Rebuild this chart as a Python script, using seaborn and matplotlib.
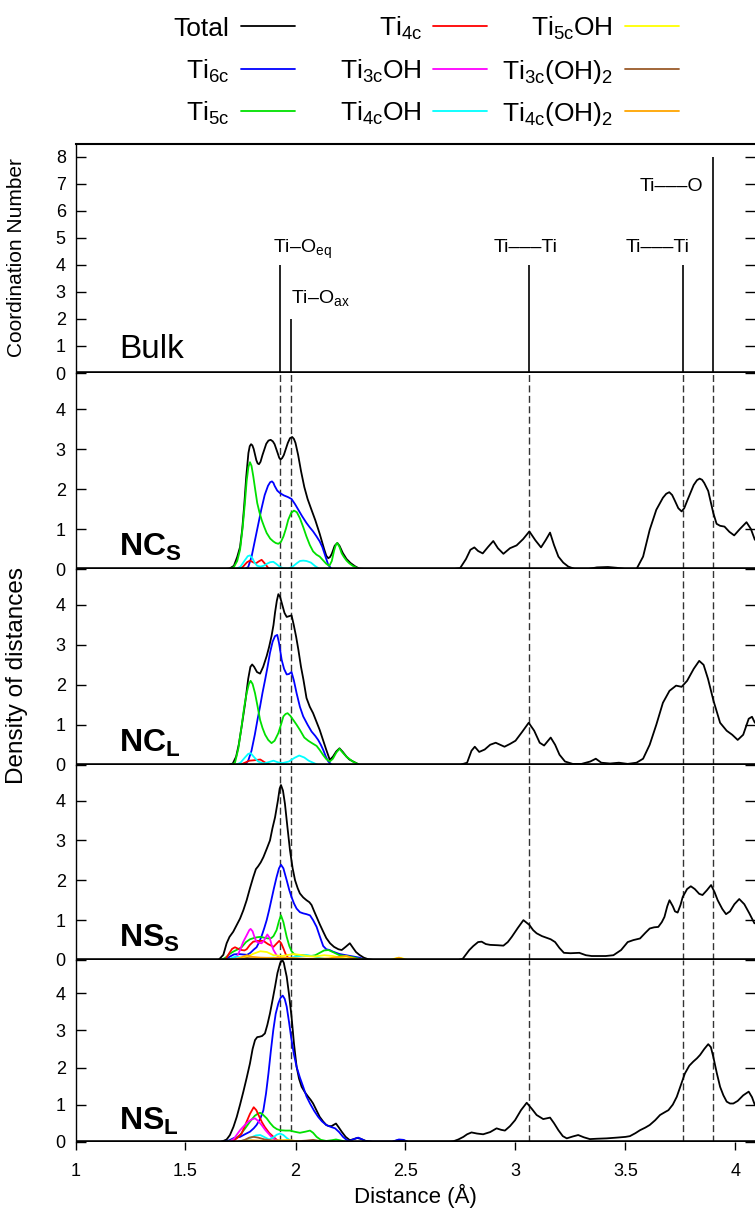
import numpy as np
import pandas as pd
import matplotlib
matplotlib.use("Agg")
import matplotlib.pyplot as plt
from matplotlib.lines import Line2D
import seaborn as sns

# ---------------------------------------------------------------- data
SERIES = ["Total", "Ti6c", "Ti5c", "Ti4c", "Ti3cOH", "Ti4cOH",
          "Ti5cOH", "Ti3c(OH)2", "Ti4c(OH)2"]
SERIES_LABELS = ["Total", r"Ti$_\mathrm{6c}$", r"Ti$_\mathrm{5c}$", r"Ti$_\mathrm{4c}$",
                 r"Ti$_\mathrm{3c}$OH", r"Ti$_\mathrm{4c}$OH", r"Ti$_\mathrm{5c}$OH",
                 r"Ti$_\mathrm{3c}$(OH)$_2$", r"Ti$_\mathrm{4c}$(OH)$_2$"]
SERIES_COLORS = ["#000000", "#0000ff", "#00e000", "#ff0000", "#ff00ff",
                 "#00ffff", "#ffff00", "#9a5a2a", "#ffa500"]

# Bulk anatase reference shells: distance (Å) and coordination number
REF_DIST = [1.93, 1.98, 3.06, 3.76, 3.90]
REF_CN = [4, 2, 4, 4, 8]
REF_LABELS = ["Ti–O$_\\mathrm{eq}$", "Ti–O$_\\mathrm{ax}$", "Ti–––Ti", "Ti–––Ti", "Ti–––O"]

PANEL_NAMES = ["Bulk", "NC_S", "NC_L", "NS_S", "NS_L"]
X_TICKS = [1, 1.5, 2, 2.5, 3, 3.5, 4]
X_TICK_LABELS = ["1", "1.5", "2", "2.5", "3", "3.5", "4"]
BULK_Y_TICKS = [0, 1, 2, 3, 4, 5, 6, 7, 8]
DENSITY_Y_TICKS = [0, 1, 2, 3, 4]

# ---- NC_S
NCS_TOTAL = [(1.68, 0), (1.70, 0.01), (1.72, 0.08), (1.735, 0.3), (1.748, 0.55), (1.758, 1.0),
             (1.767, 1.6), (1.776, 2.3), (1.786, 2.9), (1.792, 3.07), (1.798, 3.12), (1.804, 3.09),
             (1.81, 3.0), (1.822, 2.72), (1.828, 2.64), (1.834, 2.62), (1.841, 2.68), (1.85, 2.85),
             (1.867, 3.13), (1.877, 3.21), (1.887, 3.23), (1.897, 3.19), (1.905, 3.12), (1.92, 2.88),
             (1.926, 2.78), (1.932, 2.74), (1.939, 2.77), (1.947, 2.85), (1.965, 3.15), (1.975, 3.27),
             (1.985, 3.30), (1.993, 3.25), (2.0, 3.15), (2.012, 2.85), (2.025, 2.45), (2.04, 2.05),
             (2.055, 1.75), (2.07, 1.52), (2.09, 1.22), (2.11, 0.88), (2.13, 0.5), (2.14, 0.33),
             (2.149, 0.27), (2.157, 0.3), (2.165, 0.38), (2.178, 0.58), (2.19, 0.65), (2.2, 0.58),
             (2.215, 0.4), (2.232, 0.25), (2.25, 0.15), (2.27, 0.07), (2.29, 0.01), (2.32, 0),
             (2.72, 0), (2.748, 0.02), (2.775, 0.25), (2.795, 0.48), (2.813, 0.54), (2.83, 0.45),
             (2.851, 0.39), (2.875, 0.55), (2.899, 0.70), (2.92, 0.52), (2.945, 0.38), (2.96, 0.45),
             (2.975, 0.52), (3.005, 0.59), (3.035, 0.75), (3.063, 0.94), (3.09, 0.72), (3.116, 0.54),
             (3.137, 0.72), (3.157, 0.91), (3.175, 0.6), (3.195, 0.31), (3.217, 0.16), (3.24, 0.06),
             (3.27, 0.0), (3.33, 0.0), (3.37, 0.04), (3.42, 0.05), (3.46, 0.03), (3.50, 0.0),
             (3.55, 0.0), (3.58, 0.31), (3.61, 0.98), (3.64, 1.48), (3.67, 1.78), (3.685, 1.88),
             (3.699, 1.92), (3.712, 1.85), (3.725, 1.7), (3.74, 1.52), (3.755, 1.44), (3.767, 1.52),
             (3.78, 1.7), (3.81, 2.1), (3.825, 2.22), (3.837, 2.26), (3.848, 2.23), (3.858, 2.15),
             (3.876, 1.95), (3.899, 1.40), (3.914, 1.13), (3.93, 1.08), (3.95, 1.06), (3.972, 0.93),
             (3.994, 0.84), (4.02, 1.0), (4.05, 1.17), (4.07, 1.0), (4.088, 0.73)]
NCS_TI6C = [(1.77, 0), (1.785, 0.05), (1.80, 0.3), (1.815, 0.7), (1.83, 1.1), (1.845, 1.5),
            (1.86, 1.85), (1.875, 2.08), (1.885, 2.17), (1.893, 2.19), (1.9, 2.15), (1.905, 2.08),
            (1.917, 1.96), (1.929, 1.90), (1.947, 1.84), (1.965, 1.8), (1.982, 1.75), (1.998, 1.62),
            (2.013, 1.48), (2.03, 1.32), (2.05, 1.15), (2.065, 1.04), (2.08, 0.94), (2.095, 0.82),
            (2.11, 0.69), (2.122, 0.55), (2.134, 0.35), (2.149, 0.1), (2.164, 0)]
NCS_TI5C = [(1.70, 0), (1.72, 0.05), (1.735, 0.2), (1.748, 0.48), (1.76, 1.05), (1.77, 1.65),
            (1.778, 2.2), (1.786, 2.55), (1.793, 2.67), (1.80, 2.58), (1.808, 2.32), (1.817, 1.98),
            (1.826, 1.65), (1.836, 1.42), (1.846, 1.23), (1.858, 1.05), (1.869, 0.90), (1.885, 0.76),
            (1.899, 0.69), (1.91, 0.65), (1.922, 0.63), (1.934, 0.68), (1.945, 0.81), (1.956, 1.0),
            (1.967, 1.23), (1.98, 1.4), (1.993, 1.46), (2.006, 1.42), (2.02, 1.27), (2.035, 1.05),
            (2.05, 0.81), (2.065, 0.6), (2.08, 0.44), (2.095, 0.36), (2.11, 0.31), (2.125, 0.22),
            (2.14, 0.13), (2.154, 0.08), (2.165, 0.2), (2.175, 0.45), (2.183, 0.6), (2.19, 0.65),
            (2.2, 0.55), (2.21, 0.39), (2.22, 0.3), (2.232, 0.21), (2.245, 0.14), (2.26, 0.08),
            (2.29, 0)]
NCS_TI4C = [(1.74, 0), (1.76, 0.05), (1.78, 0.17), (1.793, 0.21), (1.807, 0.17), (1.82, 0.14),
            (1.833, 0.19), (1.846, 0.23), (1.86, 0.14), (1.877, 0.02), (1.89, 0)]
NCS_TI4COH = [(1.73, 0), (1.75, 0.06), (1.77, 0.22), (1.783, 0.32), (1.793, 0.34), (1.805, 0.26),
              (1.815, 0.15), (1.826, 0.08), (1.84, 0.06), (1.855, 0.08), (1.87, 0.13), (1.885, 0.17),
              (1.899, 0.18), (1.912, 0.13), (1.93, 0.05), (1.945, 0.02), (1.965, 0.01), (1.985, 0.05),
              (2.005, 0.14), (2.02, 0.2), (2.035, 0.21), (2.05, 0.2), (2.07, 0.16), (2.09, 0.07),
              (2.11, 0)]

# ---- NC_L
NCL_TOTAL = [(1.70, 0), (1.715, 0.03), (1.73, 0.2), (1.742, 0.5), (1.755, 0.95), (1.77, 1.5),
             (1.785, 2.15), (1.795, 2.45), (1.803, 2.51), (1.812, 2.45), (1.825, 2.32), (1.839, 2.28),
             (1.853, 2.45), (1.869, 2.72), (1.88, 2.95), (1.891, 3.22), (1.9, 3.5), (1.907, 3.81),
             (1.915, 4.1), (1.922, 4.27), (1.93, 4.2), (1.94, 4.0), (1.95, 3.8), (1.96, 3.70),
             (1.972, 3.72), (1.982, 3.74), (1.992, 3.5), (2.003, 3.2), (2.013, 2.88), (2.025, 2.45),
             (2.036, 2.13), (2.05, 1.67), (2.065, 1.45), (2.08, 1.29), (2.095, 1.08), (2.11, 0.87),
             (2.125, 0.62), (2.14, 0.37), (2.156, 0.12), (2.17, 0.2), (2.185, 0.33), (2.2, 0.41),
             (2.215, 0.32), (2.232, 0.2), (2.245, 0.13), (2.262, 0.08), (2.29, 0),
             (2.75, 0), (2.78, 0.05), (2.80, 0.35), (2.815, 0.45), (2.835, 0.32), (2.86, 0.38),
             (2.885, 0.5), (2.91, 0.55), (2.93, 0.5), (2.95, 0.45), (2.975, 0.52), (3.0, 0.6),
             (3.03, 0.82), (3.06, 1.05), (3.085, 0.85), (3.11, 0.55), (3.13, 0.48), (3.16, 0.68),
             (3.18, 0.5), (3.2, 0.25), (3.225, 0.08), (3.26, 0.02), (3.3, 0.02), (3.34, 0.08),
             (3.365, 0.15), (3.39, 0.05), (3.43, 0.03), (3.47, 0.05), (3.51, 0.02), (3.55, 0.05),
             (3.58, 0.15), (3.61, 0.5), (3.64, 1.0), (3.67, 1.55), (3.7, 1.85), (3.73, 1.98),
             (3.755, 1.95), (3.78, 2.1), (3.81, 2.4), (3.835, 2.6), (3.855, 2.5), (3.875, 2.15),
             (3.9, 1.6), (3.93, 1.05), (3.96, 0.85), (3.985, 0.75), (4.01, 0.62), (4.035, 0.75),
             (4.06, 1.15), (4.075, 1.2), (4.088, 1.05)]
NCL_TI6C = [(1.77, 0), (1.785, 0.1), (1.8, 0.35), (1.815, 0.75), (1.828, 1.15), (1.839, 1.46),
            (1.85, 1.8), (1.862, 2.13), (1.873, 2.45), (1.884, 2.80), (1.896, 3.08), (1.907, 3.22),
            (1.917, 3.25), (1.925, 3.05), (1.937, 2.63), (1.948, 2.4), (1.96, 2.26), (1.97, 2.27),
            (1.982, 2.32), (1.993, 2.1), (2.005, 1.79), (2.02, 1.45), (2.035, 1.21), (2.055, 1.0),
            (2.073, 0.83), (2.09, 0.72), (2.103, 0.62), (2.115, 0.5), (2.126, 0.37), (2.138, 0.2),
            (2.149, 0.08), (2.164, 0)]
NCL_TI5C = [(1.71, 0), (1.725, 0.05), (1.74, 0.4), (1.755, 0.96), (1.767, 1.45), (1.778, 1.79),
            (1.788, 2.02), (1.796, 2.10), (1.805, 2.02), (1.816, 1.79), (1.828, 1.45), (1.839, 1.12),
            (1.85, 0.92), (1.862, 0.75), (1.876, 0.62), (1.891, 0.54), (1.905, 0.6), (1.922, 0.79),
            (1.935, 1.02), (1.945, 1.21), (1.955, 1.27), (1.964, 1.29), (1.977, 1.22), (1.99, 1.12),
            (2.005, 1.0), (2.02, 0.87), (2.04, 0.68), (2.058, 0.60), (2.075, 0.54), (2.096, 0.47),
            (2.11, 0.37), (2.126, 0.24), (2.14, 0.14), (2.156, 0.08), (2.17, 0.15), (2.185, 0.3),
            (2.2, 0.40), (2.215, 0.3), (2.232, 0.2), (2.26, 0.08), (2.29, 0)]
NCL_TI4C = [(1.75, 0), (1.77, 0.05), (1.79, 0.1), (1.81, 0.11), (1.825, 0.12), (1.84, 0.13),
            (1.86, 0.06), (1.884, 0)]
NCL_TI4COH = [(1.73, 0), (1.75, 0.05), (1.77, 0.18), (1.785, 0.27), (1.796, 0.29), (1.81, 0.2),
              (1.83, 0.08), (1.854, 0.03), (1.875, 0.06), (1.9, 0.1), (1.92, 0.06), (1.94, 0.04),
              (1.97, 0.08), (1.995, 0.17), (2.017, 0.23), (2.04, 0.18), (2.06, 0.1), (2.08, 0.05),
              (2.1, 0)]

# ---- NS_S
NSS_TOTAL = [(1.65, 0), (1.672, 0.13), (1.687, 0.42), (1.70, 0.58), (1.717, 0.71), (1.733, 0.88),
             (1.748, 1.04), (1.763, 1.25), (1.778, 1.5), (1.793, 1.8), (1.808, 2.08), (1.82, 2.28),
             (1.83, 2.35), (1.842, 2.45), (1.854, 2.58), (1.87, 2.8), (1.884, 3.0), (1.895, 3.3),
             (1.907, 3.58), (1.92, 4.0), (1.928, 4.3), (1.934, 4.39), (1.943, 4.25), (1.952, 3.92),
             (1.963, 3.35), (1.975, 2.75), (1.987, 2.3), (1.998, 2.0), (2.01, 1.8), (2.02, 1.67),
             (2.035, 1.57), (2.05, 1.5), (2.063, 1.45), (2.073, 1.38), (2.085, 1.22), (2.096, 1.08),
             (2.11, 0.9), (2.126, 0.71), (2.14, 0.55), (2.157, 0.42), (2.175, 0.33), (2.195, 0.27),
             (2.21, 0.25), (2.228, 0.33), (2.247, 0.42), (2.262, 0.3), (2.275, 0.2), (2.29, 0.13),
             (2.31, 0.06), (2.33, 0.02), (2.355, 0),
             (2.74, 0), (2.76, 0.03), (2.79, 0.25), (2.808, 0.35), (2.83, 0.45), (2.846, 0.46),
             (2.865, 0.4), (2.884, 0.38), (2.92, 0.37), (2.945, 0.36), (2.965, 0.45), (2.983, 0.58),
             (3.01, 0.8), (3.036, 1.0), (3.063, 0.88), (3.08, 0.75), (3.096, 0.67), (3.12, 0.6),
             (3.14, 0.56), (3.16, 0.52), (3.18, 0.45), (3.2, 0.3), (3.22, 0.18), (3.25, 0.17),
             (3.29, 0.18), (3.32, 0.12), (3.346, 0.1), (3.38, 0.1), (3.41, 0.1), (3.445, 0.12),
             (3.48, 0.25), (3.51, 0.45), (3.536, 0.5), (3.566, 0.54), (3.59, 0.68), (3.61, 0.79),
             (3.63, 0.82), (3.649, 0.83), (3.665, 0.95), (3.677, 1.08), (3.69, 1.35), (3.7, 1.5),
             (3.715, 1.35), (3.725, 1.22), (3.737, 1.19), (3.75, 1.38), (3.76, 1.58), (3.78, 1.78),
             (3.797, 1.85), (3.815, 1.78), (3.835, 1.66), (3.85, 1.63), (3.87, 1.75), (3.889, 1.88),
             (3.905, 1.7), (3.919, 1.5), (3.94, 1.28), (3.957, 1.15), (3.975, 1.22), (3.995, 1.4),
             (4.017, 1.53), (4.04, 1.4), (4.063, 1.17), (4.086, 0.92)]
NSS_TI6C = [(1.68, 0), (1.70, 0.08), (1.72, 0.14), (1.74, 0.15), (1.76, 0.14), (1.78, 0.13),
            (1.795, 0.18), (1.81, 0.26), (1.823, 0.32), (1.835, 0.45), (1.846, 0.6), (1.858, 0.8),
            (1.869, 1.0), (1.88, 1.25), (1.89, 1.5), (1.902, 1.8), (1.914, 2.08), (1.925, 2.3),
            (1.934, 2.39), (1.945, 2.3), (1.96, 2.0), (1.972, 1.75), (1.982, 1.58), (1.993, 1.42),
            (2.005, 1.29), (2.02, 1.2), (2.035, 1.17), (2.05, 1.15), (2.066, 1.12), (2.08, 1.0),
            (2.096, 0.83), (2.11, 0.6), (2.126, 0.35), (2.14, 0.27), (2.155, 0.25), (2.17, 0.21),
            (2.2, 0.15), (2.23, 0.12), (2.26, 0.09), (2.29, 0.06), (2.32, 0)]
NSS_TI5C = [(1.655, 0), (1.67, 0.02), (1.687, 0.08), (1.70, 0.15), (1.717, 0.21), (1.735, 0.26),
            (1.755, 0.32), (1.775, 0.45), (1.793, 0.52), (1.81, 0.55), (1.825, 0.57), (1.84, 0.58),
            (1.858, 0.56), (1.876, 0.54), (1.89, 0.55), (1.9, 0.6), (1.914, 0.75), (1.925, 0.98),
            (1.934, 1.12), (1.945, 0.95), (1.96, 0.58), (1.972, 0.35), (1.982, 0.22), (1.995, 0.14),
            (2.01, 0.12), (2.03, 0.12), (2.05, 0.11), (2.07, 0.1), (2.09, 0.12), (2.11, 0.18),
            (2.13, 0.24), (2.15, 0.25), (2.17, 0.2), (2.2, 0.12), (2.23, 0.1), (2.26, 0.07),
            (2.29, 0.03), (2.32, 0)]
NSS_TI4C = [(1.68, 0), (1.70, 0.18), (1.712, 0.28), (1.725, 0.32), (1.74, 0.28), (1.755, 0.25),
            (1.768, 0.24), (1.778, 0.27), (1.793, 0.38), (1.808, 0.46), (1.83, 0.48), (1.854, 0.48),
            (1.875, 0.4), (1.9, 0.33), (1.912, 0.4), (1.926, 0.48), (1.935, 0.42), (1.945, 0.29),
            (1.955, 0.15), (1.967, 0.05), (1.985, 0)]
NSS_TI3COH = [(1.70, 0), (1.72, 0.03), (1.735, 0.1), (1.748, 0.25), (1.762, 0.45), (1.778, 0.62),
              (1.79, 0.75), (1.796, 0.78), (1.805, 0.72), (1.815, 0.55), (1.823, 0.46), (1.835, 0.43),
              (1.846, 0.42), (1.858, 0.5), (1.872, 0.64), (1.883, 0.55), (1.893, 0.35), (1.9, 0.25),
              (1.914, 0.12), (1.93, 0.04), (1.945, 0)]
NSS_TI4COH = [(1.69, 0), (1.71, 0.05), (1.73, 0.09), (1.75, 0.06), (1.78, 0.03), (1.82, 0.03),
              (1.86, 0.05), (1.9, 0.06), (1.94, 0.04), (1.98, 0.06), (2.02, 0.1), (2.05, 0.12),
              (2.08, 0.1), (2.11, 0.05), (2.14, 0.02), (2.17, 0)]
NSS_TI5COH = [(1.70, 0), (1.74, 0.04), (1.78, 0.08), (1.81, 0.16), (1.84, 0.22), (1.87, 0.2),
              (1.9, 0.12), (1.94, 0.1), (1.97, 0.13), (1.99, 0.15), (2.02, 0.13), (2.05, 0.1),
              (2.09, 0.09), (2.13, 0.12), (2.17, 0.1), (2.2, 0.06), (2.24, 0.04), (2.28, 0.02),
              (2.32, 0), (2.43, 0), (2.46, 0.05), (2.48, 0.05), (2.51, 0)]
NSS_TI3COH2 = [(1.74, 0), (1.78, 0.05), (1.82, 0.03), (1.9, 0.04), (1.98, 0.03), (2.05, 0)]
NSS_TI4COH2 = [(1.72, 0), (1.76, 0.08), (1.78, 0.12), (1.80, 0.08), (1.84, 0.06), (1.9, 0.05),
               (1.95, 0.06), (1.99, 0.05), (2.05, 0.03), (2.15, 0.04), (2.2, 0.08), (2.23, 0.1),
               (2.26, 0.05), (2.3, 0), (2.44, 0), (2.47, 0.06), (2.5, 0)]

# ---- NS_L
NSL_TOTAL = [(1.66, 0), (1.672, 0.02), (1.687, 0.06), (1.702, 0.18), (1.718, 0.4), (1.733, 0.67),
             (1.748, 1.0), (1.763, 1.35), (1.778, 1.72), (1.793, 2.11), (1.805, 2.5), (1.816, 2.74),
             (1.826, 2.82), (1.836, 2.83), (1.848, 2.85), (1.861, 2.92), (1.872, 3.15), (1.884, 3.46),
             (1.895, 3.8), (1.907, 4.18), (1.918, 4.55), (1.93, 4.81), (1.936, 4.87), (1.942, 4.88),
             (1.947, 4.82), (1.951, 4.7), (1.96, 4.45), (1.97, 4.0), (1.982, 3.37), (1.993, 2.65),
             (2.005, 2.02), (2.016, 1.7), (2.028, 1.48), (2.043, 1.33), (2.058, 1.21), (2.07, 1.12),
             (2.08, 1.03), (2.095, 0.85), (2.11, 0.67), (2.125, 0.55), (2.14, 0.45), (2.152, 0.42),
             (2.164, 0.42), (2.175, 0.46), (2.184, 0.49), (2.195, 0.4), (2.21, 0.27), (2.228, 0.13),
             (2.247, 0.04), (2.265, 0.07), (2.28, 0.1), (2.295, 0.08), (2.32, 0.02), (2.35, 0),
             (2.44, 0), (2.465, 0.04), (2.49, 0.04), (2.51, 0),
             (2.70, 0), (2.717, 0.01), (2.74, 0.06), (2.763, 0.13), (2.78, 0.2), (2.8, 0.25),
             (2.825, 0.22), (2.853, 0.2), (2.885, 0.26), (2.914, 0.36), (2.935, 0.32), (2.952, 0.3),
             (2.975, 0.42), (2.998, 0.58), (3.025, 0.85), (3.051, 1.05), (3.075, 0.88), (3.096, 0.72),
             (3.126, 0.61), (3.142, 0.63), (3.157, 0.65), (3.175, 0.5), (3.195, 0.31), (3.215, 0.15),
             (3.233, 0.09), (3.26, 0.14), (3.285, 0.18), (3.31, 0.12), (3.338, 0.07), (3.37, 0.08),
             (3.414, 0.09), (3.46, 0.11), (3.5, 0.13), (3.52, 0.15), (3.545, 0.23), (3.566, 0.31),
             (3.59, 0.38), (3.61, 0.45), (3.635, 0.58), (3.657, 0.72), (3.68, 0.8), (3.695, 0.85),
             (3.715, 1.0), (3.733, 1.21), (3.75, 1.5), (3.77, 1.84), (3.79, 2.05), (3.808, 2.16),
             (3.825, 2.25), (3.839, 2.34), (3.858, 2.5), (3.876, 2.63), (3.888, 2.55), (3.899, 2.29),
             (3.915, 1.85), (3.93, 1.48), (3.945, 1.25), (3.96, 1.08), (3.975, 1.03), (3.99, 1.03),
             (4.01, 1.1), (4.035, 1.25), (4.06, 1.35), (4.075, 1.2), (4.088, 0.99)]
NSL_TI6C = [(1.68, 0), (1.70, 0.04), (1.72, 0.1), (1.748, 0.13), (1.77, 0.2), (1.793, 0.27),
            (1.81, 0.36), (1.823, 0.45), (1.84, 0.62), (1.854, 0.85), (1.866, 1.3), (1.877, 1.84),
            (1.888, 2.45), (1.899, 3.01), (1.91, 3.45), (1.922, 3.73), (1.932, 3.88), (1.942, 3.94),
            (1.951, 3.85), (1.96, 3.64), (1.97, 3.25), (1.982, 2.74), (1.993, 2.35), (2.005, 2.02),
            (2.02, 1.73), (2.035, 1.48), (2.05, 1.22), (2.066, 1.03), (2.085, 0.83), (2.103, 0.67),
            (2.12, 0.55), (2.14, 0.45), (2.16, 0.4), (2.18, 0.36), (2.198, 0.26), (2.216, 0.13),
            (2.232, 0.05), (2.247, 0.02), (2.265, 0.07), (2.285, 0.11), (2.30, 0.07), (2.32, 0.01),
            (2.35, 0), (2.44, 0), (2.47, 0.06), (2.49, 0.05), (2.51, 0)]
NSL_TI5C = [(1.69, 0), (1.702, 0.02), (1.72, 0.07), (1.735, 0.12), (1.748, 0.18), (1.77, 0.35),
            (1.793, 0.54), (1.815, 0.7), (1.83, 0.76), (1.839, 0.78), (1.85, 0.74), (1.869, 0.63),
            (1.885, 0.5), (1.9, 0.40), (1.915, 0.34), (1.93, 0.31), (1.955, 0.3), (1.975, 0.30),
            (1.995, 0.27), (2.02, 0.24), (2.045, 0.27), (2.066, 0.30), (2.08, 0.24), (2.096, 0.13),
            (2.115, 0.05), (2.14, 0.02), (2.165, 0.04), (2.184, 0.06), (2.2, 0.04), (2.23, 0)]
NSL_TI4C = [(1.70, 0), (1.717, 0.02), (1.735, 0.1), (1.755, 0.22), (1.775, 0.5), (1.793, 0.75),
            (1.81, 0.93), (1.822, 0.85), (1.835, 0.68), (1.848, 0.52), (1.86, 0.40), (1.88, 0.24),
            (1.9, 0.13), (1.915, 0.05), (1.93, 0)]
NSL_TI3COH = [(1.70, 0), (1.72, 0.08), (1.748, 0.31), (1.765, 0.42), (1.785, 0.54), (1.80, 0.6),
              (1.816, 0.63), (1.83, 0.56), (1.846, 0.45), (1.862, 0.32), (1.877, 0.22), (1.895, 0.1),
              (1.914, 0.04), (1.93, 0)]
NSL_TI4COH = [(1.74, 0), (1.77, 0.04), (1.80, 0.12), (1.82, 0.17), (1.84, 0.18), (1.86, 0.12),
              (1.88, 0.06), (1.9, 0.12), (1.915, 0.19), (1.93, 0.22), (1.945, 0.18), (1.96, 0.1),
              (1.975, 0.04), (1.99, 0.02), (2.01, 0)]
NSL_TI5COH = [(1.88, 0), (1.92, 0.03), (1.96, 0.04), (2.0, 0.02), (2.04, 0)]
NSL_TI3COH2 = [(1.74, 0), (1.77, 0.05), (1.79, 0.11), (1.81, 0.13), (1.83, 0.11), (1.86, 0.06),
               (1.9, 0.03), (1.95, 0.02), (2.0, 0.01), (2.05, 0.03), (2.08, 0.05), (2.11, 0.02),
               (2.14, 0)]
NSL_TI4COH2 = [(1.74, 0), (1.8, 0.04), (1.86, 0.02), (1.92, 0.03), (1.97, 0.04), (2.03, 0)]

PANEL_SERIES = {
    "NC_S": {"Total": NCS_TOTAL, "Ti6c": NCS_TI6C, "Ti5c": NCS_TI5C, "Ti4c": NCS_TI4C,
             "Ti4cOH": NCS_TI4COH},
    "NC_L": {"Total": NCL_TOTAL, "Ti6c": NCL_TI6C, "Ti5c": NCL_TI5C, "Ti4c": NCL_TI4C,
             "Ti4cOH": NCL_TI4COH},
    "NS_S": {"Total": NSS_TOTAL, "Ti6c": NSS_TI6C, "Ti5c": NSS_TI5C, "Ti4c": NSS_TI4C,
             "Ti3cOH": NSS_TI3COH, "Ti4cOH": NSS_TI4COH, "Ti5cOH": NSS_TI5COH,
             "Ti3c(OH)2": NSS_TI3COH2, "Ti4c(OH)2": NSS_TI4COH2},
    "NS_L": {"Total": NSL_TOTAL, "Ti6c": NSL_TI6C, "Ti5c": NSL_TI5C, "Ti4c": NSL_TI4C,
             "Ti3cOH": NSL_TI3COH, "Ti4cOH": NSL_TI4COH, "Ti5cOH": NSL_TI5COH,
             "Ti3c(OH)2": NSL_TI3COH2, "Ti4c(OH)2": NSL_TI4COH2},
}
PANEL_TITLES = {"Bulk": "Bulk", "NC_S": r"$\mathbf{NC_S}$", "NC_L": r"$\mathbf{NC_L}$",
                "NS_S": r"$\mathbf{NS_S}$", "NS_L": r"$\mathbf{NS_L}$"}

# ---------------------------------------------------------------- style
sns.set_theme(style="ticks")
plt.rcParams.update({
    "font.family": ["Liberation Sans", "DejaVu Sans"],
    "mathtext.fontset": "custom",
    "mathtext.rm": "Liberation Sans",
    "mathtext.it": "Liberation Sans:italic",
    "mathtext.bf": "Liberation Sans:bold",
    "mathtext.sf": "Liberation Sans",
    "text.color": "black",
    "axes.edgecolor": "black",
    "axes.labelcolor": "black",
    "xtick.color": "black",
    "ytick.color": "black",
    "lines.solid_joinstyle": "round",
})

W_PX, H_PX = 755, 1212
LEFT_PX = 75.5
EDGES_PX = [144, 373, 569, 764.7, 960, 1141.7]
PX_PER_A = 220.0
X_MIN = 1.0
X_MAX = X_MIN + (W_PX - LEFT_PX) / PX_PER_A

fig = plt.figure(figsize=(W_PX / 100, H_PX / 100), dpi=100)
axes = []
for i, name in enumerate(PANEL_NAMES):
    top, bottom = EDGES_PX[i], EDGES_PX[i + 1]
    ax = fig.add_axes([LEFT_PX / W_PX, 1 - bottom / H_PX, 1 - LEFT_PX / W_PX, (bottom - top) / H_PX])
    ax.set_xlim(X_MIN, X_MAX)
    ax.patch.set_alpha(0)
    axes.append(ax)

color_of = dict(zip(SERIES, SERIES_COLORS))

# ---- bulk coordination sticks
ax_b = axes[0]
ref_df = pd.DataFrame({"distance": REF_DIST, "cn": REF_CN})
ax_b.vlines(ref_df["distance"], 0, ref_df["cn"], color="black", lw=1.2, zorder=3)
ax_b.set_ylim(0, 8.48)
ax_b.set_yticks(BULK_Y_TICKS)
label_anchor = [(-0.032, 0.44), (0.0, 0.6), (-0.16, 0.49), (-0.26, 0.49), (-0.335, -1.25)]
for d, cn, lab, (dx, dy) in zip(REF_DIST, REF_CN, REF_LABELS, label_anchor):
    ax_b.text(d + dx, cn + dy, lab, fontsize=14, ha="left", va="baseline")
ax_b.text(1.2, 0.55, PANEL_TITLES["Bulk"], fontsize=24, ha="left", va="baseline")

# ---- density panels
for ax, name in zip(axes[1:], PANEL_NAMES[1:]):
    curves = PANEL_SERIES[name]
    for s in SERIES:
        if s not in curves:
            continue
        df = pd.DataFrame(curves[s], columns=["distance", "density"])
        sns.lineplot(data=df, x="distance", y="density", ax=ax, color=color_of[s],
                     lw=1.3, sort=False, estimator=None, legend=False,
                     zorder=3 if s == "Total" else 4)
    for d in REF_DIST:
        ax.axvline(d, color="0.2", lw=1.0, ls=(0, (5, 2.5)), zorder=2)
    ax.set_ylim(0, 4.9)
    ax.set_yticks(DENSITY_Y_TICKS)
    ax.text(1.2, 0.33, PANEL_TITLES[name], fontsize=23, ha="left", va="baseline", zorder=6)

for i, ax in enumerate(axes):
    ax.set_xlabel("")
    ax.set_ylabel("")
    ax.axhline(0, color="black", lw=2.6, zorder=5)
    for side in ("top", "right", "bottom"):
        ax.spines[side].set_visible(False)
    ax.spines["left"].set_linewidth(1.0)
    ax.tick_params(axis="y", direction="in", length=7, width=1.0, left=True, right=True,
                   labelsize=13, pad=7)
    if i == len(axes) - 1:
        ax.set_xticks(X_TICKS)
        ax.set_xticklabels(X_TICK_LABELS)
        ax.tick_params(axis="x", direction="out", length=6, width=1.0, labelsize=13, pad=9)
    else:
        ax.tick_params(axis="x", bottom=False, labelbottom=False)
axes[0].spines["top"].set_visible(True)
axes[0].spines["top"].set_linewidth(1.5)

# ---- axis titles
fig.text(17 / W_PX, 1 - 258 / H_PX, "Coordination Number", rotation=90,
         ha="center", va="center", fontsize=15)
fig.text(17 / W_PX, 1 - 675 / H_PX, "Density of distances", rotation=90,
         ha="center", va="center", fontsize=17.5)
fig.text(415 / W_PX, 1 - 1196 / H_PX, "Distance (Å)", ha="center", va="center", fontsize=16)

# ---- key: three columns, label right-aligned before its line sample
KEY_TEXT_RIGHT_PX = [229, 422, 613]
KEY_LINE_PX = [(241, 295), (433, 487), (625, 679)]
KEY_ROW_PX = [26, 69, 111]
for k, (s, lab) in enumerate(zip(SERIES, SERIES_LABELS)):
    col, row = divmod(k, 3)
    y = 1 - KEY_ROW_PX[row] / H_PX
    fig.text(KEY_TEXT_RIGHT_PX[col] / W_PX, 1 - (KEY_ROW_PX[row] + 10) / H_PX, lab,
             ha="right", va="baseline", fontsize=19)
    x0, x1 = KEY_LINE_PX[col]
    fig.add_artist(Line2D([x0 / W_PX, x1 / W_PX], [y, y], transform=fig.transFigure,
                          color=color_of[s], lw=1.3))

fig.savefig("out.png", dpi=100)
